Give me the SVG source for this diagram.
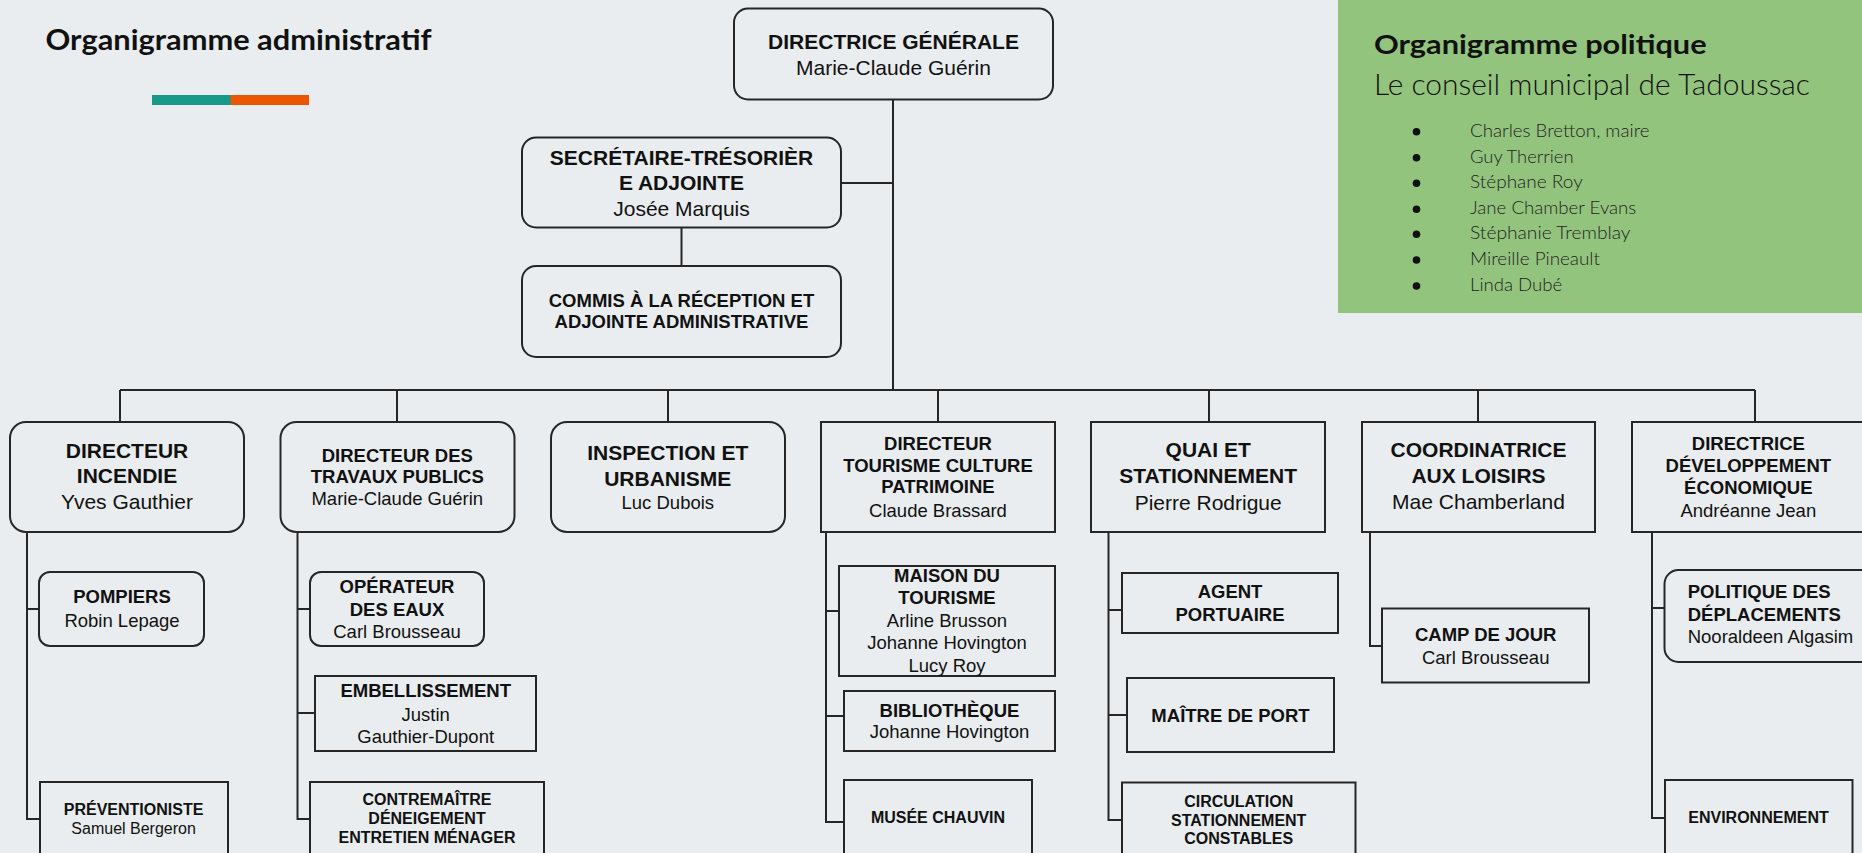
<svg xmlns="http://www.w3.org/2000/svg" width="1862" height="853" viewBox="0 0 1862 853">
<style>
.bg{fill:#e9edef}
.box{fill:none;stroke:#262626;stroke-width:2}
.conn{fill:none;stroke:#262626;stroke-width:2}
text{font-family:"Liberation Sans",Arial,sans-serif;fill:#111;text-anchor:middle}
.b{font-weight:700}
.r{font-weight:400}
.f21{font-size:21px}
.f18{font-size:18.5px}
.f16{font-size:16px}
.nun{font-family:Lato,"Open Sans",sans-serif;text-anchor:start;fill:#111}
.li{font-family:Lato,"Open Sans",sans-serif;font-weight:300;font-size:17.5px;text-anchor:start;fill:#222}
</style>
<rect class="bg" x="0" y="0" width="1862" height="853"/>

<g id="header-admin">
<text class="nun" x="45.5" y="50" font-size="29" font-weight="700" textLength="386" lengthAdjust="spacingAndGlyphs">Organigramme administratif</text>
<rect x="152" y="95" width="79" height="10" fill="#19998a"/>
<rect x="230.5" y="95" width="78.5" height="10" fill="#eb5600"/>
</g>

<g id="panel-politique">
<rect x="1338" y="0" width="524" height="313" fill="#93c47d"/>
<text class="nun" x="1374" y="54" font-size="27" font-weight="700" textLength="332.6" lengthAdjust="spacingAndGlyphs">Organigramme politique</text>
<text class="nun" x="1374" y="95" font-size="30" font-weight="300" textLength="436" lengthAdjust="spacingAndGlyphs">Le conseil municipal de Tadoussac</text>
<g fill="#111">
<circle cx="1416.5" cy="131.7" r="3.8"/>
<circle cx="1416.5" cy="157.7" r="3.8"/>
<circle cx="1416.5" cy="183.3" r="3.8"/>
<circle cx="1416.5" cy="209.3" r="3.8"/>
<circle cx="1416.5" cy="234.3" r="3.8"/>
<circle cx="1416.5" cy="260" r="3.8"/>
<circle cx="1416.5" cy="286" r="3.8"/>
</g>
<text class="li" x="1470" y="136.7" textLength="179.5" lengthAdjust="spacingAndGlyphs">Charles Bretton, maire</text>
<text class="li" x="1470" y="162.7" textLength="103.5" lengthAdjust="spacingAndGlyphs">Guy Therrien</text>
<text class="li" x="1470" y="188.3" textLength="112.7" lengthAdjust="spacingAndGlyphs">Stéphane Roy</text>
<text class="li" x="1470" y="214.3" textLength="166.3" lengthAdjust="spacingAndGlyphs">Jane Chamber Evans</text>
<text class="li" x="1470" y="239.3" textLength="160.5" lengthAdjust="spacingAndGlyphs">Stéphanie Tremblay</text>
<text class="li" x="1470" y="265" textLength="130" lengthAdjust="spacingAndGlyphs">Mireille Pineault</text>
<text class="li" x="1470" y="291" textLength="92.3" lengthAdjust="spacingAndGlyphs">Linda Dubé</text>
</g>

<g id="connectors">
<path class="conn" d="M893,99 V390"/>
<path class="conn" d="M841,183 H893"/>
<path class="conn" d="M681.5,228 V266"/>
<path class="conn" d="M120,390 H1755"/>
<path class="conn" d="M120,390 V422 M397,390 V422 M668,390 V422 M938,390 V422 M1209,390 V422 M1478,390 V422 M1755,390 V422"/>
<path class="conn" d="M27,532 V819 H40 M27,609 H39"/>
<path class="conn" d="M297.5,532 V819 H310 M297.5,609 H310 M297.5,713 H315"/>
<path class="conn" d="M826,532 V822 H844 M826,611 H839 M826,716 H844"/>
<path class="conn" d="M1108.5,532 V820 H1122 M1108.5,610 H1122 M1108.5,715 H1127"/>
<path class="conn" d="M1370,532 V646 H1382"/>
<path class="conn" d="M1652,532 V818 H1665 M1652,608 H1664.5"/>
</g>

<g id="n-dg">
<rect class="box" x="734" y="8.5" width="319" height="91" rx="14"/>
<text class="b f21" x="893.5" y="49.3">DIRECTRICE GÉNÉRALE</text>
<text class="r f21" x="893.5" y="75">Marie-Claude Guérin</text>
</g>
<g id="n-sec">
<rect class="box" x="522" y="137.5" width="319" height="90" rx="14"/>
<text class="b f21" x="681.5" y="165">SECRÉTAIRE-TRÉSORIÈR</text>
<text class="b f21" x="681.5" y="190">E ADJOINTE</text>
<text class="r f21" x="681.5" y="216">Josée Marquis</text>
</g>
<g id="n-commis">
<rect class="box" x="522" y="266" width="319" height="91" rx="14"/>
<text class="b f18" x="681.5" y="306.7">COMMIS À LA RÉCEPTION ET</text>
<text class="b f18" x="681.5" y="328.3">ADJOINTE ADMINISTRATIVE</text>
</g>

<g id="n-incendie">
<rect class="box" x="10" y="422" width="234" height="110" rx="16"/>
<text class="b f21" x="127" y="458.3">DIRECTEUR</text>
<text class="b f21" x="127" y="483.3">INCENDIE</text>
<text class="r f21" x="127" y="509.3">Yves Gauthier</text>
</g>
<g id="n-travaux">
<rect class="box" x="280.5" y="422" width="234" height="110" rx="16"/>
<text class="b f18" x="397.3" y="461.7">DIRECTEUR DES</text>
<text class="b f18" x="397.3" y="482.7">TRAVAUX PUBLICS</text>
<text class="r f18" x="397.3" y="505">Marie-Claude Guérin</text>
</g>
<g id="n-inspection">
<rect class="box" x="551" y="422" width="234" height="110" rx="16"/>
<text class="b f21" x="667.8" y="460">INSPECTION ET</text>
<text class="b f21" x="667.8" y="486">URBANISME</text>
<text class="r f18" x="667.8" y="509">Luc Dubois</text>
</g>
<g id="n-tourisme">
<rect class="box" x="821" y="422" width="234" height="110"/>
<text class="b f18" x="938" y="450">DIRECTEUR</text>
<text class="b f18" x="938" y="471.7">TOURISME CULTURE</text>
<text class="b f18" x="938" y="493.3">PATRIMOINE</text>
<text class="r f18" x="938" y="516.7">Claude Brassard</text>
</g>
<g id="n-quai">
<rect class="box" x="1091" y="422" width="234" height="110"/>
<text class="b f21" x="1208.2" y="457.3">QUAI ET</text>
<text class="b f21" x="1208.2" y="483.3">STATIONNEMENT</text>
<text class="r f21" x="1208.2" y="510">Pierre Rodrigue</text>
</g>
<g id="n-coord">
<rect class="box" x="1362" y="422" width="233" height="110"/>
<text class="b f21" x="1478.5" y="457.3">COORDINATRICE</text>
<text class="b f21" x="1478.5" y="483.3">AUX LOISIRS</text>
<text class="r f21" x="1478.5" y="509.3">Mae Chamberland</text>
</g>
<g id="n-dev">
<rect class="box" x="1632" y="422" width="234" height="110"/>
<text class="b f18" x="1748.3" y="450">DIRECTRICE</text>
<text class="b f18" x="1748.3" y="472">DÉVELOPPEMENT</text>
<text class="b f18" x="1748.3" y="494">ÉCONOMIQUE</text>
<text class="r f18" x="1748.3" y="516.5">Andréanne Jean</text>
</g>

<g id="n-pompiers">
<rect class="box" x="39" y="572" width="165" height="74" rx="11"/>
<text class="b f18" x="122" y="603.3">POMPIERS</text>
<text class="r f18" x="122" y="626.7">Robin Lepage</text>
</g>
<g id="n-prev">
<rect class="box" x="40" y="782" width="188" height="100"/>
<text class="b f16" x="133.6" y="815">PRÉVENTIONISTE</text>
<text class="r f16" x="133.6" y="834">Samuel Bergeron</text>
</g>
<g id="n-operateur">
<rect class="box" x="310" y="572" width="174" height="74" rx="11"/>
<text class="b f18" x="397" y="593.3">OPÉRATEUR</text>
<text class="b f18" x="397" y="616">DES EAUX</text>
<text class="r f18" x="397" y="638.3">Carl Brousseau</text>
</g>
<g id="n-embellissement">
<rect class="box" x="315" y="676" width="221" height="75"/>
<text class="b f18" x="425.7" y="697.3">EMBELLISSEMENT</text>
<text class="r f18" x="425.7" y="720.7">Justin</text>
<text class="r f18" x="425.7" y="742.7">Gauthier-Dupont</text>
</g>
<g id="n-contremaitre">
<rect class="box" x="310" y="782" width="234" height="100"/>
<text class="b f16" x="427" y="805">CONTREMAÎTRE</text>
<text class="b f16" x="427" y="824.3">DÉNEIGEMENT</text>
<text class="b f16" x="427" y="843.3">ENTRETIEN MÉNAGER</text>
</g>

<g id="n-maison">
<rect class="box" x="839" y="566" width="216" height="110"/>
<text class="b f18" x="947" y="582.3">MAISON DU</text>
<text class="b f18" x="947" y="604.3">TOURISME</text>
<text class="r f18" x="947" y="627.3">Arline Brusson</text>
<text class="r f18" x="947" y="649.3">Johanne Hovington</text>
<text class="r f18" x="947" y="672.3">Lucy Roy</text>
</g>
<g id="n-biblio">
<rect class="box" x="844" y="691" width="211" height="60"/>
<text class="b f18" x="949.5" y="716.7">BIBLIOTHÈQUE</text>
<text class="r f18" x="949.5" y="738.3">Johanne Hovington</text>
</g>
<g id="n-musee">
<rect class="box" x="844" y="780" width="188" height="100"/>
<text class="b f16" x="938" y="823">MUSÉE CHAUVIN</text>
</g>

<g id="n-agent">
<rect class="box" x="1122" y="573" width="216" height="60"/>
<text class="b f18" x="1230" y="598.3">AGENT</text>
<text class="b f18" x="1230" y="620.7">PORTUAIRE</text>
</g>
<g id="n-maitre">
<rect class="box" x="1127" y="678" width="207" height="74"/>
<text class="b f18" x="1230.5" y="721.7">MAÎTRE DE PORT</text>
</g>
<g id="n-circulation">
<rect class="box" x="1122" y="782.5" width="233.5" height="100"/>
<text class="b f16" x="1238.7" y="806.7">CIRCULATION</text>
<text class="b f16" x="1238.7" y="825.7">STATIONNEMENT</text>
<text class="b f16" x="1238.7" y="844">CONSTABLES</text>
</g>

<g id="n-camp">
<rect class="box" x="1382" y="608.5" width="207" height="74"/>
<text class="b f18" x="1485.7" y="641">CAMP DE JOUR</text>
<text class="r f18" x="1485.7" y="664">Carl Brousseau</text>
</g>

<g id="n-politique">
<rect class="box" x="1664.5" y="570" width="230" height="92" rx="14"/>
<text class="b f18" x="1687.7" y="598.3" style="text-anchor:start">POLITIQUE DES</text>
<text class="b f18" x="1687.7" y="620.7" style="text-anchor:start">DÉPLACEMENTS</text>
<text class="r f18" x="1687.7" y="643.3" style="text-anchor:start">Nooraldeen Algasim</text>
</g>
<g id="n-environnement">
<rect class="box" x="1665" y="780" width="187.5" height="100"/>
<text class="b f16" x="1758.5" y="822.7">ENVIRONNEMENT</text>
</g>
</svg>
